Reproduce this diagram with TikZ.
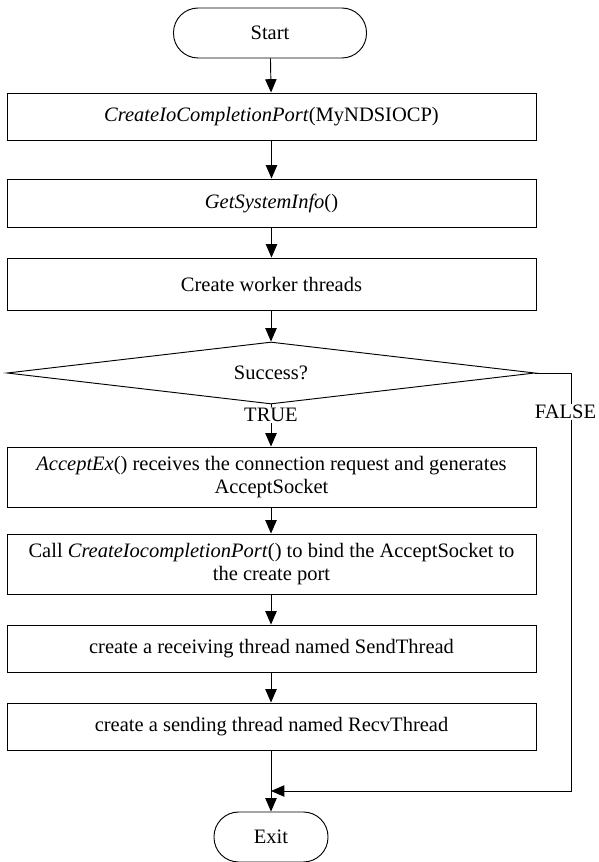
\documentclass[tikz,border=0pt]{standalone}
\usepackage{fontspec}
\setmainfont{Liberation Serif}
\usepackage{tikz}
\usetikzlibrary{shapes.geometric,arrows.meta,positioning,calc}

\begin{document}
\begin{tikzpicture}[x=0.3mm, y=-0.3mm, line width=0.8pt,
    font=\fontsize{17.5}{20}\selectfont,
    terminal/.style={draw, rectangle, rounded corners=7.4mm, minimum width=#1*0.3mm, minimum height=15mm},
    process/.style={draw, rectangle, align=center, inner sep=1pt, minimum width=158.7mm, minimum height=#1*0.3mm},
    decision/.style={draw, diamond, aspect=8, inner sep=0pt, minimum width=158.4mm, minimum height=18.6mm},
    label/.style={fill=white, inner sep=1pt},
    flow/.style={-{Triangle[length=4mm, width=3.4mm]}}]
    \useasboundingbox (0,0) rectangle (598,862);

    \node[terminal=193] (start) at (270, 33) {Start};

    \node[process=47] (iocp) at (271.5, 116.5) {\textit{CreateIoCompletionPort}(MyNDSIOCP)};
    \node[process=48] (sysinfo) at (271.5, 203) {\textit{GetSystemInfo}()};
    \node[process=52] (workers) at (271.5, 284) {Create worker threads};

    \node[decision] (success) at (271, 373) {Success?};

    \node[process=60] (accept) at (271.5, 477) {\textit{AcceptEx}() receives the connection request and generates\\AcceptSocket};
    \node[process=60] (bind) at (271.5, 564) {Call \textit{CreateIocompletionPort}() to bind the AcceptSocket to\\the create port};
    \node[process=47] (sendthr) at (271.5, 648.5) {create a receiving thread named SendThread};
    \node[process=47] (recvthr) at (271.5, 726.5) {create a sending thread named RecvThread};

    \node[terminal=114] (exit) at (271, 837) {Exit};

    \coordinate (join) at (271, 791);
    \coordinate (corner) at (571, 791);

    \draw[flow] (start) -- (iocp);
    \draw[flow] (iocp) -- (sysinfo);
    \draw[flow] (sysinfo) -- (workers);
    \draw[flow] (workers.south -| success.north) -- (success.north);
    \draw[flow] (success.south) -- (success.south |- accept.north);
    \draw[flow] (accept.south -| success.south) -- (bind.north -| success.south);
    \draw[flow] (bind.south -| success.south) -- (sendthr.north -| success.south);
    \draw[flow] (sendthr.south -| success.south) -- (recvthr.north -| success.south);
    \draw[flow] (recvthr.south -| exit.north) -- (exit.north);
    \draw[flow] (success.east) -| (corner) -- (join);

    \node[label] (yes) at (271, 415) {TRUE};
    \node[label] (no) at (565.5, 412) {FALSE};
\end{tikzpicture}
\end{document}
